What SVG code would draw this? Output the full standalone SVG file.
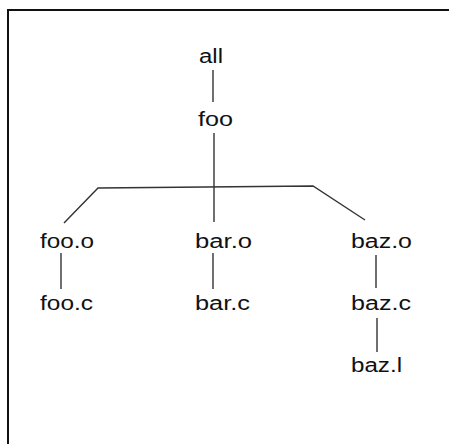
<svg xmlns="http://www.w3.org/2000/svg" width="449" height="444" viewBox="0 0 449 444">
<style>
text{font-family:"Liberation Sans",Arial,sans-serif;font-size:20px;fill:#111}
.c{stroke:#333;stroke-width:1.4;fill:none}
</style>
<rect width="449" height="444" fill="#fff"/>
<path d="M8 444 V10 H449" fill="none" stroke="#111" stroke-width="2"/>
<g id="connectors">
<line class="c" x1="213" y1="70" x2="213" y2="102"/>
<line class="c" x1="214" y1="133" x2="214" y2="222"/>
<polyline class="c" points="64,223 98,188 313,186 365,220"/>
<line class="c" x1="61" y1="253" x2="61" y2="289"/>
<line class="c" x1="213" y1="253" x2="213" y2="289"/>
<line class="c" x1="376" y1="255" x2="376" y2="288"/>
<line class="c" x1="377" y1="318" x2="377" y2="352"/>
</g>
<g id="all"><text x="199" y="63" textLength="24" lengthAdjust="spacingAndGlyphs">all</text></g>
<g id="foo"><text x="198" y="126" textLength="35" lengthAdjust="spacingAndGlyphs">foo</text></g>
<g id="foo.o"><text x="40" y="248" textLength="54" lengthAdjust="spacingAndGlyphs">foo.o</text></g>
<g id="bar.o"><text x="195" y="248" textLength="57" lengthAdjust="spacingAndGlyphs">bar.o</text></g>
<g id="baz.o"><text x="351" y="248" textLength="61" lengthAdjust="spacingAndGlyphs">baz.o</text></g>
<g id="foo.c"><text x="40" y="310" textLength="53" lengthAdjust="spacingAndGlyphs">foo.c</text></g>
<g id="bar.c"><text x="195" y="310" textLength="55" lengthAdjust="spacingAndGlyphs">bar.c</text></g>
<g id="baz.c"><text x="351" y="310" textLength="60" lengthAdjust="spacingAndGlyphs">baz.c</text></g>
<g id="baz.l"><text x="351" y="372" textLength="51" lengthAdjust="spacingAndGlyphs">baz.l</text></g>
</svg>
